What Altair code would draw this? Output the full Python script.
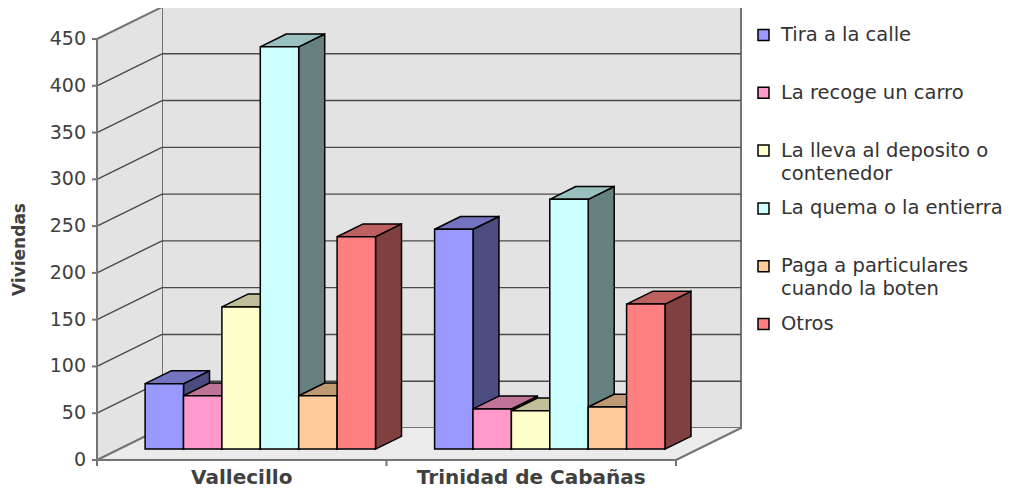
import altair as alt
import pandas as pd

# ---------------- data ----------------
categories = ["Vallecillo", "Trinidad de Cabañas"]
series = [
    "Tira a la calle",
    "La recoge un carro",
    "La lleva al deposito o contenedor",
    "La quema o la entierra",
    "Paga a particulares cuando la boten",
    "Otros",
]
legend_lines = [
    ["Tira a la calle"],
    ["La recoge un carro"],
    ["La lleva al deposito o", "contenedor"],
    ["La quema o la entierra"],
    ["Paga a particulares", "cuando la boten"],
    ["Otros"],
]
vallecillo = [70, 57, 152, 430, 57, 227]
trinidad = [235, 43, 41, 267, 45, 155]
y_tick_values = [0, 50, 100, 150, 200, 250, 300, 350, 400, 450]
y_title = "Viviendas"
series_colors = ["#9999FF", "#FF99CC", "#FFFFCC", "#CCFFFF", "#FFCC99", "#FF8080"]

# ---------------- layout ----------------
PX_CAT = 289.5            # px per category on the front plane
PX_VAL = 421 / 450        # px per value unit
W, H = 913, 462
X_MAX = W / PX_CAT
Y_TOP = 452 / PX_VAL
Y_MIN = Y_TOP - H / PX_VAL
DX = 65 / PX_CAT          # full depth shift in x units
DY = 32 / PX_VAL          # full depth shift in value units
D_FRONT = 0.34
D_BAR = 0.40
BAR_W = 38.4 / PX_CAT
GROUP_PAD = 26 / PX_CAT
AX_MAX = 450
WALL = "#e3e3e3"
FLOOR = "#ebebeb"
EDGE = "#747474"
GRID = "#4a4a4a"
TEXT = "#404040"
FONT = "DejaVu Sans"


def shade(h, f):
    r, g, b = int(h[1:3], 16), int(h[3:5], 16), int(h[5:7], 16)
    return "#%02x%02x%02x" % (round(r * f), round(g * f), round(b * f))


xs = alt.Scale(domain=[0, X_MAX], nice=False, zero=False)
ys = alt.Scale(domain=[Y_MIN, Y_TOP], nice=False, zero=False)


def X(f):
    return alt.X(f"{f}:Q", scale=xs, axis=None, stack=None)


def Y(f):
    return alt.Y(f"{f}:Q", scale=ys, axis=None, stack=None)


def py(page_y):
    return (460 - page_y) / PX_VAL


def px(page_x):
    return (page_x - 97) / PX_CAT


# ---------------- bars geometry ----------------
dx, dy = DX * D_BAR, DY * D_BAR
fronts, tops, sides = [], [], []
for ci, vals in enumerate([vallecillo, trinidad]):
    for si, v in enumerate(vals):
        bid = f"{ci}-{si}"
        left = ci + GROUP_PAD + si * BAR_W + DX * D_FRONT
        right = left + BAR_W
        base = DY * D_FRONT
        top = base + v
        c = series_colors[si]
        fronts.append(dict(id=bid, l=left, r=right, b=base, t=top, col=c, serie=series[si], cat=categories[ci], val=v))
        tc, sc = shade(c, 0.75), shade(c, 0.5)
        tops.append(dict(id=bid, y=top, xl=left, xr=right, col=tc))
        tops.append(dict(id=bid, y=top + dy, xl=left + dx, xr=right + dx, col=tc))
        sides.append(dict(id=bid, x=right, y=base, y2=top, col=sc))
        sides.append(dict(id=bid, x=right + dx, y=base + dy, y2=top + dy, col=sc))

fronts, tops, sides = pd.DataFrame(fronts), pd.DataFrame(tops), pd.DataFrame(sides)

# ---------------- walls ----------------
n_cat = len(categories)
back_df = pd.DataFrame([dict(x=DX, x2=n_cat + DX, y=DY, y2=AX_MAX + DY)])
left_df = pd.DataFrame([dict(x=0, y=0, y2=AX_MAX), dict(x=DX, y=DY, y2=AX_MAX + DY)])
floor_df = pd.DataFrame([dict(y=0, x=0, x2=n_cat), dict(y=DY, x=DX, x2=n_cat + DX)])

back = alt.Chart(back_df).mark_rect(fill=WALL, stroke=EDGE, strokeWidth=2).encode(
    x=X("x"), x2="x2", y=Y("y"), y2="y2")
left_wall = alt.Chart(left_df).mark_area(fill=WALL).encode(x=X("x"), y=Y("y"), y2="y2")
floor = alt.Chart(floor_df).mark_area(fill=FLOOR, orient="horizontal").encode(y=Y("y"), x=X("x"), x2="x2")

grid_back_df = pd.DataFrame([dict(y=v + DY, x=DX, x2=n_cat + DX) for v in y_tick_values[1:-1]])
grid_back = alt.Chart(grid_back_df).mark_rule(color=GRID, strokeWidth=1.4).encode(x=X("x"), x2="x2", y=Y("y"))
grid_left_df = pd.DataFrame([dict(x=0, x2=DX, y=v, y2=v + DY) for v in y_tick_values[1:-1]])
grid_left = alt.Chart(grid_left_df).mark_rule(color=GRID, strokeWidth=1.4).encode(x=X("x"), x2="x2", y=Y("y"), y2="y2")

edges_df = pd.DataFrame([
    dict(x=0, x2=DX, y=AX_MAX, y2=AX_MAX + DY),
    dict(x=0, x2=DX, y=0, y2=DY),
    dict(x=n_cat, x2=n_cat + DX, y=0, y2=DY),
    dict(x=0, x2=n_cat, y=0, y2=0),
    dict(x=0, x2=0, y=0, y2=AX_MAX),
] + [dict(x=k, x2=k, y=0, y2=-6 / PX_VAL) for k in range(n_cat + 1)]
  + [dict(x=0, x2=-5 / PX_CAT, y=v, y2=v) for v in y_tick_values])
edges = alt.Chart(edges_df).mark_rule(color=EDGE, strokeWidth=2).encode(x=X("x"), x2="x2", y=Y("y"), y2="y2")

# ---------------- y axis labels / title ----------------
ytick_df = pd.DataFrame([dict(x=0, y=v, text=str(v)) for v in y_tick_values])
ytick_text = alt.Chart(ytick_df).mark_text(font=FONT, fontSize=19, color=TEXT, align="right",
                                           baseline="middle", dx=-11).encode(
    x=X("x"), y=Y("y"), text="text:N")
ytitle_df = pd.DataFrame([dict(x=px(20), y=AX_MAX / 2, text=y_title)])
ytitle = alt.Chart(ytitle_df).mark_text(font=FONT, fontSize=17, fontWeight="bold", color=TEXT,
                                        align="center", baseline="middle", angle=270).encode(
    x=X("x"), y=Y("y"), text="text:N")

# ---------------- bars ----------------
side_layer = alt.Chart(sides).mark_area(stroke="black", strokeWidth=1.5).encode(
    x=X("x"), y=Y("y"), y2="y2", color=alt.Color("col:N", scale=None), detail="id:N")
top_layer = alt.Chart(tops).mark_area(orient="horizontal", stroke="black", strokeWidth=1.5).encode(
    y=Y("y"), x=X("xl"), x2="xr", color=alt.Color("col:N", scale=None), detail="id:N")
front_layer = alt.Chart(fronts).mark_rect(stroke="black", strokeWidth=1.5).encode(
    x=X("l"), x2="r", y=Y("b"), y2="t", color=alt.Color("col:N", scale=None),
    tooltip=["cat:N", "serie:N", "val:Q"])

# ---------------- category labels ----------------
cat_df = pd.DataFrame([dict(x=i + 0.5, y=py(478), text=c) for i, c in enumerate(categories)])
cat_text = alt.Chart(cat_df).mark_text(font=FONT, fontSize=20, fontWeight="bold", color=TEXT,
                                       align="center", baseline="middle").encode(
    x=X("x"), y=Y("y"), text="text:N")

# ---------------- legend ----------------
LEG_Y0, LEG_STEP, LINE_H = 35, 57.8, 23
sym_rows, txt_rows = [], []
for i, lines in enumerate(legend_lines):
    ey = LEG_Y0 + i * LEG_STEP
    sym_rows.append(dict(x=px(763.5), y=py(ey), col=series_colors[i]))
    for j, ln in enumerate(lines):
        txt_rows.append(dict(x=px(781), y=py(ey + j * LINE_H), text=ln))
leg_sym = alt.Chart(pd.DataFrame(sym_rows)).mark_square(size=121, filled=True, stroke="black",
                                                         strokeWidth=1.5, opacity=1).encode(
    x=X("x"), y=Y("y"), color=alt.Color("col:N", scale=None))
leg_txt = alt.Chart(pd.DataFrame(txt_rows)).mark_text(font=FONT, fontSize=19.5, color="#333333",
                                                       align="left", baseline="middle").encode(
    x=X("x"), y=Y("y"), text="text:N")

chart = alt.layer(
    back, left_wall, floor, grid_back, grid_left, edges,
    side_layer, top_layer, front_layer, ytick_text, ytitle, cat_text, leg_sym, leg_txt,
).properties(
    width=W, height=H,
    padding={"left": 89, "top": 0, "right": 0, "bottom": 18},
    autosize=alt.AutoSizeParams(type="none"),
).configure(background="white", view={"stroke": None})

chart.save("out.html", embed_options={"renderer": "svg", "actions": False})
